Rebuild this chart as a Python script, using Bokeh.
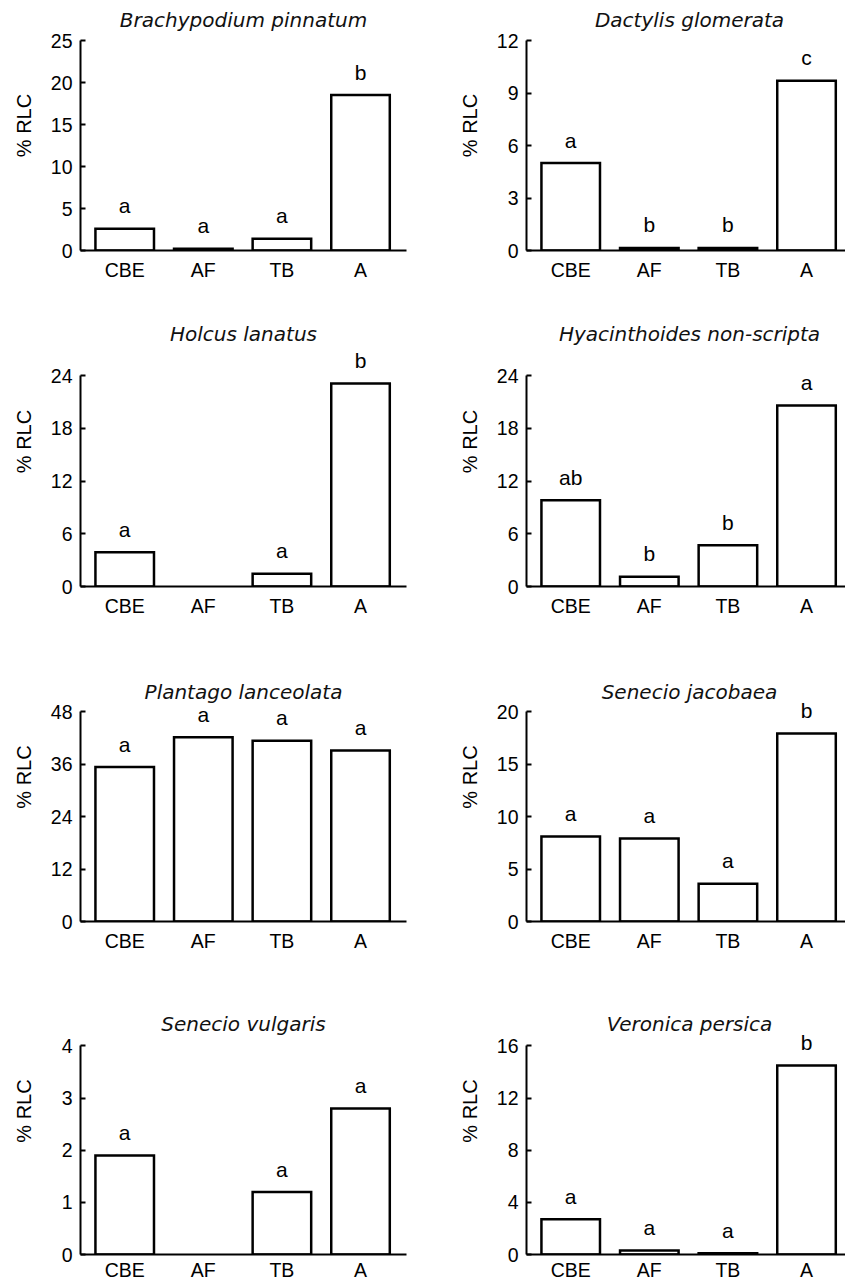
from bokeh.plotting import figure
from bokeh.layouts import row, column
from bokeh.models import FixedTicker, Range1d
from bokeh.core.properties import value
from bokeh.embed import file_html
from bokeh.resources import INLINE

# ---------------- data ----------------
categories = ["CBE", "AF", "TB", "A"]

species = ["Brachypodium pinnatum", "Dactylis glomerata",
           "Holcus lanatus", "Hyacinthoides non-scripta",
           "Plantago lanceolata", "Senecio jacobaea",
           "Senecio vulgaris", "Veronica persica"]

brachypodium = [2.6, 0.2, 1.4, 18.5]
dactylis = [5.0, 0.15, 0.15, 9.7]
holcus = [3.9, 0.0, 1.45, 23.1]
hyacinthoides = [9.8, 1.1, 4.7, 20.6]
plantago = [35.3, 42.1, 41.3, 39.1]
senecio_jac = [8.1, 7.9, 3.6, 17.9]
senecio_vul = [1.9, 0.0, 1.2, 2.8]
veronica = [2.7, 0.3, 0.1, 14.5]

letters_brachypodium = ["a", "a", "a", "b"]
letters_dactylis = ["a", "b", "b", "c"]
letters_holcus = ["a", "", "a", "b"]
letters_hyacinthoides = ["ab", "b", "b", "a"]
letters_plantago = ["a", "a", "a", "a"]
letters_senecio_jac = ["a", "a", "a", "b"]
letters_senecio_vul = ["a", "", "a", "a"]
letters_veronica = ["a", "a", "a", "b"]

yticks_brachypodium = [0, 5, 10, 15, 20, 25]
yticks_dactylis = [0, 3, 6, 9, 12]
yticks_holcus = [0, 6, 12, 18, 24]
yticks_hyacinthoides = [0, 6, 12, 18, 24]
yticks_plantago = [0, 12, 24, 36, 48]
yticks_senecio_jac = [0, 5, 10, 15, 20]
yticks_senecio_vul = [0, 1, 2, 3, 4]
yticks_veronica = [0, 4, 8, 12, 16]

y_label = "% RLC"

values = [brachypodium, dactylis, holcus, hyacinthoides,
          plantago, senecio_jac, senecio_vul, veronica]
letters = [letters_brachypodium, letters_dactylis, letters_holcus, letters_hyacinthoides,
           letters_plantago, letters_senecio_jac, letters_senecio_vul, letters_veronica]
yticks = [yticks_brachypodium, yticks_dactylis, yticks_holcus, yticks_hyacinthoides,
          yticks_plantago, yticks_senecio_jac, yticks_senecio_vul, yticks_veronica]

# ---------------- layout (pixels) ----------------
# per row: figure height, axis top, zero line, title baseline (figure-local)
rows_px = [
    dict(H=296, T=40, Z=250, tb=19, standoff=8),
    dict(H=336, T=79, Z=290, tb=37, standoff=8),
    dict(H=335, T=79, Z=289, tb=59, standoff=8),
    dict(H=316, T=79, Z=289, tb=57, standoff=4),
]
cols_px = [
    dict(W=420, bl=80, br=14),
    dict(W=425, bl=106, br=0),
]
BAND = 78.6
X0 = -0.0625
REF_FRAME = 326
LETTER_GAP = 23
FONT = "Liberation Sans"
TITLE_FONT = "DejaVu Sans"


def make_panel(i):
    r = rows_px[i // 2]
    c = cols_px[i % 2]
    vals = values[i]
    ticks = yticks[i]
    ymax = ticks[-1]
    frame_w = c["W"] - c["bl"] - c["br"]
    axis_px = r["Z"] - r["T"]
    per_px = ymax / axis_px
    y_end = r["Z"] * per_px
    x_end = X0 + frame_w / BAND

    p = figure(width=c["W"], height=r["H"],
               x_range=Range1d(X0, x_end), y_range=Range1d(0, y_end),
               output_backend="svg", toolbar_location=None, tools="",
               min_border_left=c["bl"], min_border_right=c["br"],
               min_border_top=0, min_border_bottom=r["H"] - r["Z"],
               outline_line_color=None,
               background_fill_color="white", border_fill_color="white")
    p.grid.visible = False

    xs = [k + 0.5 for k in range(len(categories))]

    # x axis
    xa = p.xaxis[0]
    xa.ticker = FixedTicker(ticks=xs)
    xa.major_label_overrides = {x: cat for x, cat in zip(xs, categories)}
    xa.major_tick_line_color = None
    xa.minor_tick_line_color = None
    xa.major_tick_in = 0
    xa.major_tick_out = 0
    xa.minor_tick_in = 0
    xa.minor_tick_out = 0
    xa.axis_line_width = 2
    xa.axis_line_color = "black"
    xa.major_label_text_font = FONT
    xa.major_label_text_font_size = "19.5px"
    xa.major_label_text_color = "black"
    xa.major_label_standoff = r["standoff"]

    # y axis
    ya = p.yaxis[0]
    ya.ticker = FixedTicker(ticks=ticks)
    ya.bounds = (0, ymax)
    ya.major_tick_in = 5
    ya.major_tick_out = 0
    ya.minor_tick_in = 0
    ya.minor_tick_out = 0
    ya.major_tick_line_width = 2
    ya.major_tick_line_color = "black"
    ya.minor_tick_line_color = None
    ya.axis_line_width = 2
    ya.axis_line_color = "black"
    ya.major_label_text_font = FONT
    ya.major_label_text_font_size = "19.5px"
    ya.major_label_text_color = "black"
    ya.major_label_standoff = 8
    ya.axis_label = y_label
    ya.axis_label_text_font = FONT
    ya.axis_label_text_font_size = "20px"
    ya.axis_label_text_font_style = "normal"
    ya.axis_label_text_color = "black"
    maxlen = max(len(str(t)) for t in ticks)
    ya.axis_label_standoff = 13 + (2 - maxlen) * 11

    # bars (skip empty categories)
    bx = [x for x, v in zip(xs, vals) if v > 0]
    bt = [v for v in vals if v > 0]
    p.vbar(x=bx, top=bt, bottom=0, width=0.745,
           fill_color="white", line_color="black", line_width=2.5,
           line_join="miter")

    # significance letters
    lx = [x for x, t in zip(xs, letters[i]) if t]
    ly = [v + LETTER_GAP * per_px for v, t in zip(vals, letters[i]) if t]
    lt = [t for t in letters[i] if t]
    p.text(x=lx, y=ly, text=lt, text_font=value(FONT), text_font_size="21px",
           text_align="center", text_baseline="alphabetic", text_color="black")

    # title
    tx = X0 + REF_FRAME / BAND / 2
    ty = (r["Z"] - r["tb"]) * per_px
    p.text(x=[tx], y=[ty], text=[species[i]], text_font=value(TITLE_FONT),
           text_font_style="italic", text_font_size="20px",
           text_align="center", text_baseline="alphabetic", text_color="#111111")
    return p


panels = [make_panel(i) for i in range(8)]
layout = column(
    row(panels[0], panels[1]),
    row(panels[2], panels[3]),
    row(panels[4], panels[5]),
    row(panels[6], panels[7]),
)

open("out.html", "w").write(file_html(layout, INLINE))
